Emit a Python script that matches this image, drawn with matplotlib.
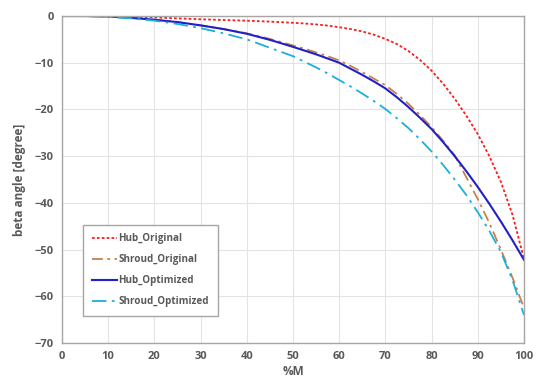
import matplotlib.pyplot as plt

plt.rcParams['font.family'] = ['Open Sans', 'DejaVu Sans']

# %M positions
pct_m = [0, 5, 10, 15, 20, 25, 30, 35, 40, 45, 50, 52.5, 55, 57.5, 60, 62.5, 65, 67.5, 70, 72.5,
         75, 77.5, 80, 82.5, 85, 87.5, 90, 92.5, 95, 97.5, 100]

hub_original = [0, 0, 0, -0.1, -0.3, -0.5, -0.7, -0.85, -1.0, -1.2, -1.45, -1.6, -1.8, -2.05, -2.4,
                -2.8, -3.3, -4.0, -4.9, -6.0, -7.5, -9.4, -11.7, -14.5, -17.7, -21.3, -25.3, -30.0,
                -35.5, -42.5, -52.0]
shroud_original = [0, 0, -0.1, -0.4, -0.8, -1.3, -2.0, -2.8, -3.7, -4.9, -6.3, -7.0, -7.8, -8.6, -9.5,
                   -10.7, -12.0, -13.4, -14.8, -16.7, -18.8, -21.2, -23.8, -26.7, -29.8, -34.5, -39.2,
                   -44.3, -50.0, -56.0, -62.5]
hub_optimized = [0, 0, -0.1, -0.4, -0.8, -1.3, -2.0, -2.8, -3.8, -5.1, -6.6, -7.4, -8.2, -9.1, -10.0,
                 -11.3, -12.6, -14.0, -15.5, -17.4, -19.5, -21.8, -24.2, -27.0, -30.0, -33.2, -36.6,
                 -40.2, -44.0, -48.0, -52.2]
shroud_optimized = [0, 0, -0.2, -0.5, -1.0, -1.7, -2.6, -3.7, -5.0, -6.8, -8.6, -9.8, -11.0, -12.3,
                    -13.7, -15.1, -16.6, -18.2, -19.9, -21.9, -24.0, -26.4, -29.0, -31.9, -35.0, -38.3,
                    -42.0, -46.0, -50.5, -56.5, -64.0]

x_ticks = list(range(0, 101, 10))
y_ticks = list(range(-70, 1, 10))

fig = plt.figure(figsize=(5.5, 3.86), dpi=100)
ax = fig.add_axes([0.1127, 0.1114, 0.84, 0.8471])

ax.plot(pct_m, hub_original, color='#ff1a1a', lw=1.3, linestyle=(0, (1.5, 1.2)), label='Hub_Original')
ax.plot(pct_m, shroud_original, color='#c8804c', lw=1.3, linestyle=(0, (6, 2.5, 1.5, 2.5)),
        label='Shroud_Original')
ax.plot(pct_m, hub_optimized, color='#2020c8', lw=1.5, label='Hub_Optimized')
ax.plot(pct_m, shroud_optimized, color='#1ab0dc', lw=1.3, linestyle=(0, (8, 3, 1.5, 3)),
        label='Shroud_Optimized')

ax.set_xlim(0, 100)
ax.set_ylim(-70, 0)
ax.set_xticks(x_ticks)
ax.set_yticks(y_ticks)
ax.grid(True, color='#e3e3e3', lw=0.8)
ax.set_axisbelow(True)
for s in ax.spines.values():
    s.set_color('#a6a6a6')
    s.set_linewidth(1.0)
ax.tick_params(length=0, pad=6, labelsize=8, labelcolor='#595959')
for lab in ax.get_xticklabels() + ax.get_yticklabels():
    lab.set_fontweight('bold')

ax.set_xlabel('%M', fontsize=8.5, fontweight='bold', color='#595959', labelpad=2)
ax.set_ylabel('beta angle [degree]', fontsize=8.5, fontweight='bold', color='#595959', labelpad=6)

leg = ax.legend(loc='lower left', bbox_to_anchor=(0.045, 0.083), borderaxespad=0, fancybox=False,
                framealpha=1, edgecolor='#a6a6a6', handlelength=2.6, handletextpad=0.1,
                labelspacing=1.0, borderpad=0.9, prop={'weight': 'bold', 'size': 7.1})
leg.get_frame().set_linewidth(1.0)
for t in leg.get_texts():
    t.set_color('#595959')

plt.savefig('out.png', dpi=100)
